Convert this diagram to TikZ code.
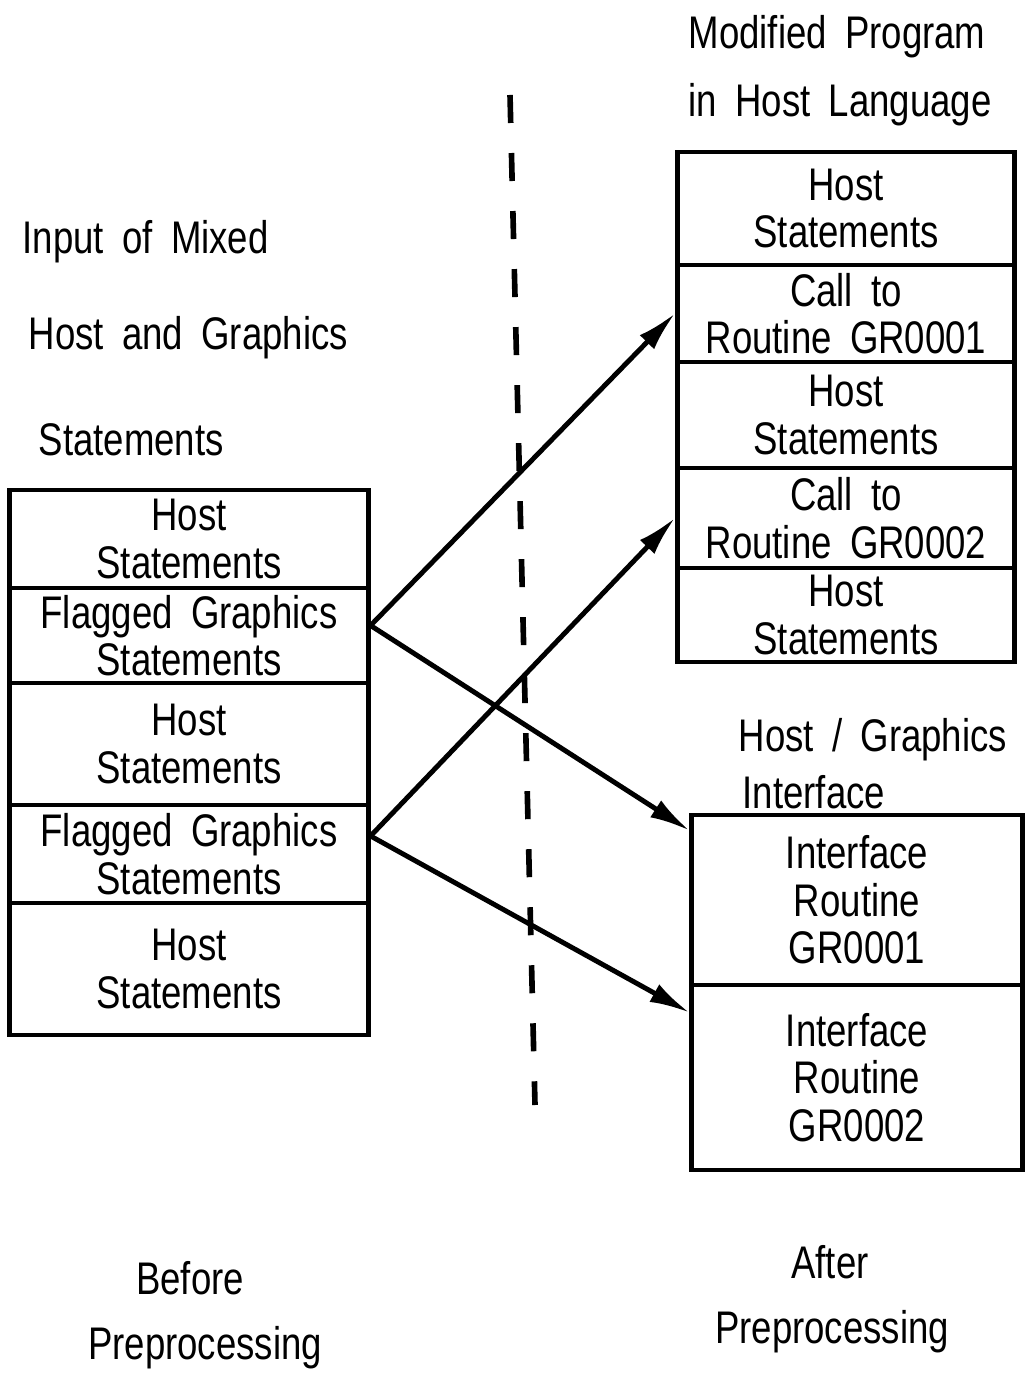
\documentclass[tikz,border=0pt]{standalone}
\usepackage{fontspec}
\setmainfont{Liberation Sans}[FakeStretch=0.8,WordSpace=1.8]
\usetikzlibrary{calc}
\usetikzlibrary{arrows.meta}

\begin{document}
\begin{tikzpicture}[x=0.01cm,y=-0.01cm,
    every node/.style={font=\fontsize{13}{13.5}\selectfont},
    cell/.style={draw, line width=1.4pt, align=center, inner sep=0pt},
    flow/.style={line width=1.4pt, -{Latex[length=4mm,width=2mm]}},
    caption/.style={anchor=west, inner sep=0pt}]
    \useasboundingbox (0,0) rectangle (1029,1374);
    % titles
    \node[caption] (tin1) at (22,242) {Input of Mixed};
    \node[caption] (tin2) at (28,338) {Host and Graphics};
    \node[caption] (tin3) at (38,440) {Statements};
    \node[caption] (tout1) at (688,37) {Modified Program};
    \node[caption] (tout2) at (688,105) {in Host Language};
    \node[caption] (tif1) at (738,740) {Host / Graphics};
    \node[caption] (tif2) at (742,792) {Interface};
    % input stack
    \foreach \n/\ya/\yb/\txt in {1/490/588/{Host\\Statements},
        2/588/683/{Flagged Graphics\\Statements},
        3/683/805/{Host\\Statements},
        4/805/903/{Flagged Graphics\\Statements},
        5/903/1035/{Host\\Statements}}
        \node[cell, minimum width=3.58cm, minimum height={(\yb-\ya)*0.01cm}] (L\n) at (189,{(\ya+\yb)/2}) {\txt};
    % modified program
    \foreach \n/\ya/\yb/\txt in {1/152/265/{Host\\Statements},
        2/265/362/{Call to\\Routine GR0001},
        3/362/468/{Host\\Statements},
        4/468/568/{Call to\\Routine GR0002},
        5/568/662/{Host\\Statements}}
        \node[cell, minimum width=3.37cm, minimum height={(\yb-\ya)*0.01cm}] (R\n) at (846,{(\ya+\yb)/2}) {\txt};
    % interface routines
    \foreach \n/\ya/\yb/\txt in {1/815/985/{Interface\\Routine\\GR0001},
        2/985/1170/{Interface\\Routine\\GR0002}}
        \node[cell, minimum width=3.30cm, minimum height={(\yb-\ya)*0.01cm}] (G\n) at (857,{(\ya+\yb)/2}) {\txt};
    % divider
    \coordinate (dtop) at (510,95);
    \coordinate (dbot) at (535,1105);
    \draw[line width=1.6pt, dash pattern=on 0.28cm off 0.3cm] (dtop) -- (dbot);
    % preprocessing
    \draw[flow] ($(L2.east)+(0,-10)$) -- (R2.west);
    \draw[flow] ($(L2.east)+(0,-10)$) -- ($(G1.north west)+(0,18)$);
    \draw[flow] ($(L4.east)+(0,-18)$) -- (R4.west);
    \draw[flow] ($(L4.east)+(0,-18)$) -- ($(G2.north west)+(0,30)$);
    % footers
    \node (bef1) at (190,1278) {Before};
    \node (bef2) at (205,1348) {Preprocessing};
    \node (aft1) at (830,1262) {After};
    \node (aft2) at (832,1332) {Preprocessing};
\end{tikzpicture}
\end{document}
